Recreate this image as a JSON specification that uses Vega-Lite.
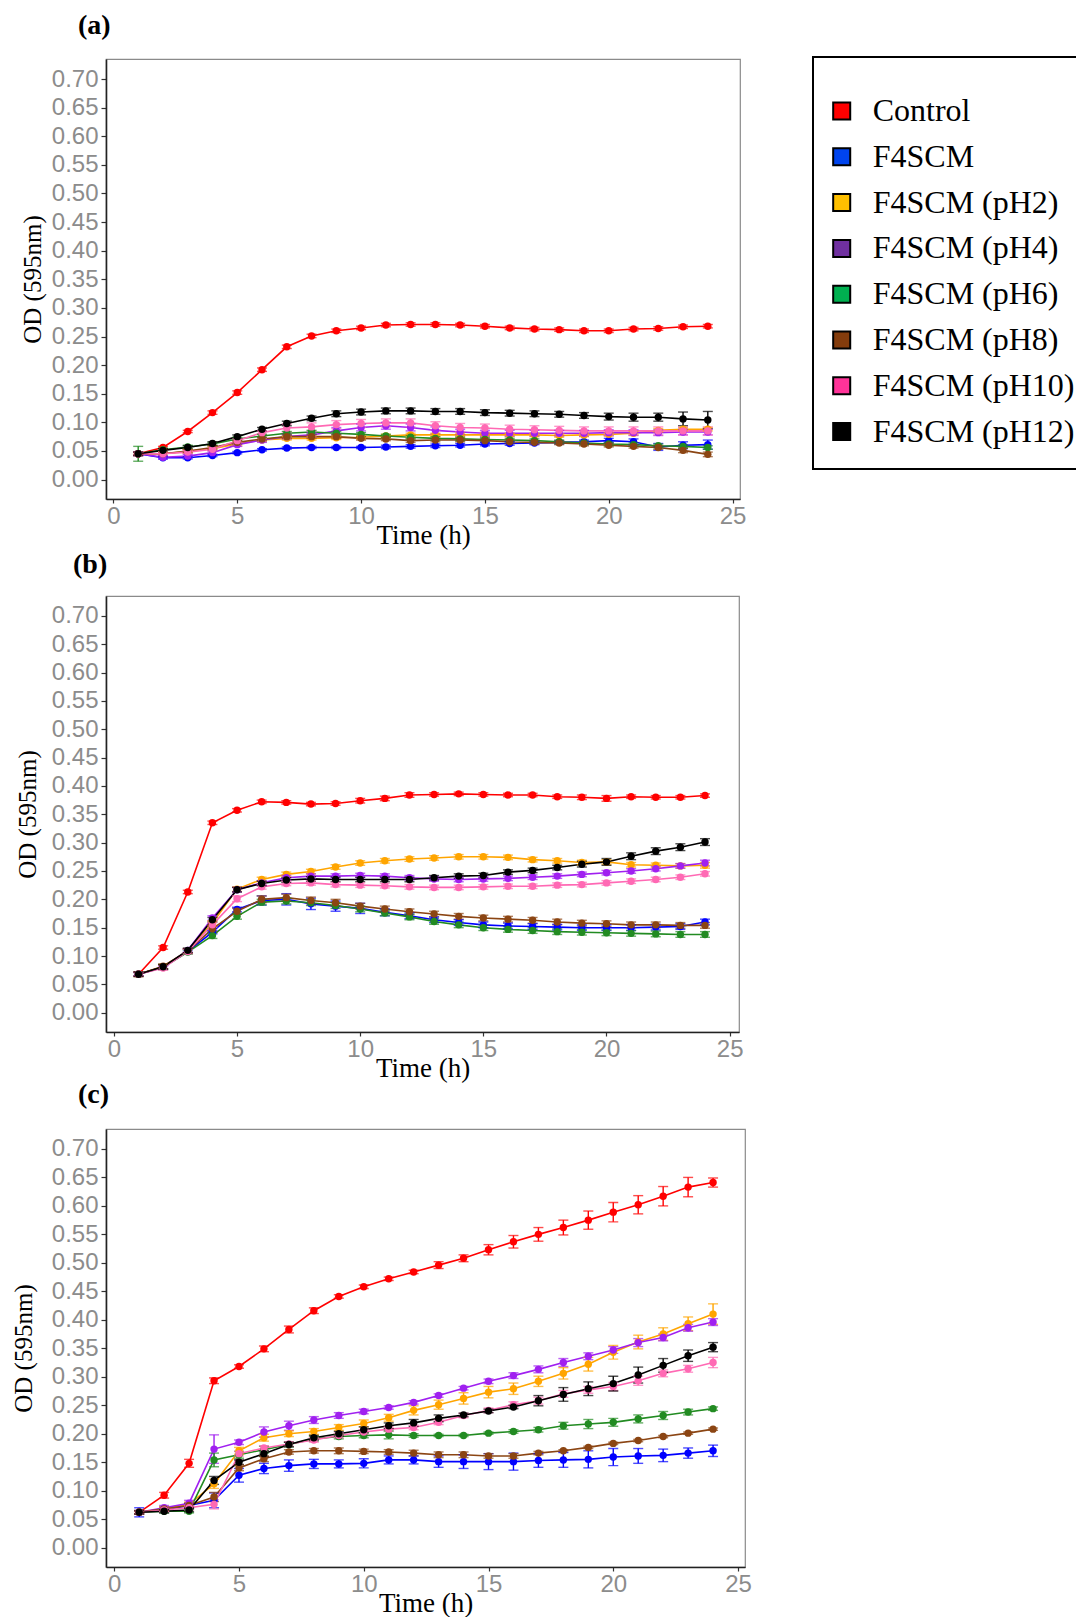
{
"$schema": "https://vega.github.io/schema/vega-lite/v6.json",
"background": "white",
"padding": {"left": 10, "top": 11, "right": 0, "bottom": 0},
"config": {
 "view": {"stroke": "#8a8a8a", "strokeWidth": 1.2},
 "axis": {"grid": false, "labelFont": "Liberation Sans", "labelFontSize": 24, "labelColor": "#8c8c8c", "labelFlush": false, "labelOverlap": false, "tickColor": "#333333", "tickWidth": 1.2, "domainColor": "#222222", "domainWidth": 1.6, "titleFont": "Liberation Serif", "titleFontWeight": "normal", "titleColor": "black", "titleFontSize": 27},
 "axisX": {"tickSize": 4, "labelPadding": 1, "titleBaseline": "alphabetic"},
 "axisY": {"tickSize": 5, "labelPadding": 3, "titleFontSize": 25, "titleBaseline": "middle"},
 "title": {"font": "Liberation Serif", "fontWeight": "bold", "fontSize": 28, "color": "black", "anchor": "start", "frame": "group"}
},
"spacing": 97,
"bounds": "flush",
"resolve": {"legend": {"fill": "independent"}},
"datasets": {
"a": [
{"s":"Control","t":1,"y":0.045,"e":0.002},{"s":"Control","t":2,"y":0.056,"e":0.002},{"s":"Control","t":3,"y":0.084,"e":0.002},{"s":"Control","t":4,"y":0.117,"e":0.003},{"s":"Control","t":5,"y":0.152,"e":0.003},{"s":"Control","t":6,"y":0.192,"e":0.003},{"s":"Control","t":7,"y":0.232,"e":0.003},{"s":"Control","t":8,"y":0.251,"e":0.003},{"s":"Control","t":9,"y":0.260,"e":0.003},{"s":"Control","t":10,"y":0.265,"e":0.003},{"s":"Control","t":11,"y":0.270,"e":0.003},{"s":"Control","t":12,"y":0.271,"e":0.003},{"s":"Control","t":13,"y":0.271,"e":0.003},{"s":"Control","t":14,"y":0.270,"e":0.003},{"s":"Control","t":15,"y":0.268,"e":0.003},{"s":"Control","t":16,"y":0.265,"e":0.003},{"s":"Control","t":17,"y":0.263,"e":0.003},{"s":"Control","t":18,"y":0.262,"e":0.003},{"s":"Control","t":19,"y":0.260,"e":0.003},{"s":"Control","t":20,"y":0.260,"e":0.003},{"s":"Control","t":21,"y":0.263,"e":0.003},{"s":"Control","t":22,"y":0.264,"e":0.003},{"s":"Control","t":23,"y":0.267,"e":0.003},{"s":"Control","t":24,"y":0.268,"e":0.003},
{"s":"F4SCM","t":1,"y":0.045,"e":0.003},{"s":"F4SCM","t":2,"y":0.038,"e":0.002},{"s":"F4SCM","t":3,"y":0.038,"e":0.002},{"s":"F4SCM","t":4,"y":0.042,"e":0.002},{"s":"F4SCM","t":5,"y":0.047,"e":0.002},{"s":"F4SCM","t":6,"y":0.052,"e":0.002},{"s":"F4SCM","t":7,"y":0.055,"e":0.002},{"s":"F4SCM","t":8,"y":0.056,"e":0.002},{"s":"F4SCM","t":9,"y":0.056,"e":0.002},{"s":"F4SCM","t":10,"y":0.056,"e":0.002},{"s":"F4SCM","t":11,"y":0.057,"e":0.003},{"s":"F4SCM","t":12,"y":0.058,"e":0.003},{"s":"F4SCM","t":13,"y":0.059,"e":0.003},{"s":"F4SCM","t":14,"y":0.060,"e":0.003},{"s":"F4SCM","t":15,"y":0.062,"e":0.003},{"s":"F4SCM","t":16,"y":0.063,"e":0.003},{"s":"F4SCM","t":17,"y":0.064,"e":0.003},{"s":"F4SCM","t":18,"y":0.065,"e":0.003},{"s":"F4SCM","t":19,"y":0.066,"e":0.003},{"s":"F4SCM","t":20,"y":0.068,"e":0.004},{"s":"F4SCM","t":21,"y":0.066,"e":0.005},{"s":"F4SCM","t":22,"y":0.057,"e":0.006},{"s":"F4SCM","t":23,"y":0.060,"e":0.006},{"s":"F4SCM","t":24,"y":0.061,"e":0.008},
{"s":"F4SCM (pH2)","t":1,"y":0.045,"e":0.003},{"s":"F4SCM (pH2)","t":2,"y":0.045,"e":0.003},{"s":"F4SCM (pH2)","t":3,"y":0.049,"e":0.003},{"s":"F4SCM (pH2)","t":4,"y":0.054,"e":0.003},{"s":"F4SCM (pH2)","t":5,"y":0.062,"e":0.003},{"s":"F4SCM (pH2)","t":6,"y":0.069,"e":0.003},{"s":"F4SCM (pH2)","t":7,"y":0.072,"e":0.003},{"s":"F4SCM (pH2)","t":8,"y":0.072,"e":0.003},{"s":"F4SCM (pH2)","t":9,"y":0.073,"e":0.003},{"s":"F4SCM (pH2)","t":10,"y":0.074,"e":0.003},{"s":"F4SCM (pH2)","t":11,"y":0.076,"e":0.003},{"s":"F4SCM (pH2)","t":12,"y":0.078,"e":0.003},{"s":"F4SCM (pH2)","t":13,"y":0.078,"e":0.003},{"s":"F4SCM (pH2)","t":14,"y":0.078,"e":0.003},{"s":"F4SCM (pH2)","t":15,"y":0.078,"e":0.003},{"s":"F4SCM (pH2)","t":16,"y":0.078,"e":0.003},{"s":"F4SCM (pH2)","t":17,"y":0.078,"e":0.003},{"s":"F4SCM (pH2)","t":18,"y":0.077,"e":0.003},{"s":"F4SCM (pH2)","t":19,"y":0.078,"e":0.003},{"s":"F4SCM (pH2)","t":20,"y":0.079,"e":0.003},{"s":"F4SCM (pH2)","t":21,"y":0.081,"e":0.003},{"s":"F4SCM (pH2)","t":22,"y":0.086,"e":0.003},{"s":"F4SCM (pH2)","t":23,"y":0.088,"e":0.003},{"s":"F4SCM (pH2)","t":24,"y":0.088,"e":0.003},
{"s":"F4SCM (pH4)","t":1,"y":0.045,"e":0.003},{"s":"F4SCM (pH4)","t":2,"y":0.039,"e":0.003},{"s":"F4SCM (pH4)","t":3,"y":0.041,"e":0.003},{"s":"F4SCM (pH4)","t":4,"y":0.047,"e":0.003},{"s":"F4SCM (pH4)","t":5,"y":0.061,"e":0.003},{"s":"F4SCM (pH4)","t":6,"y":0.069,"e":0.004},{"s":"F4SCM (pH4)","t":7,"y":0.075,"e":0.004},{"s":"F4SCM (pH4)","t":8,"y":0.078,"e":0.004},{"s":"F4SCM (pH4)","t":9,"y":0.085,"e":0.006},{"s":"F4SCM (pH4)","t":10,"y":0.091,"e":0.006},{"s":"F4SCM (pH4)","t":11,"y":0.094,"e":0.006},{"s":"F4SCM (pH4)","t":12,"y":0.091,"e":0.006},{"s":"F4SCM (pH4)","t":13,"y":0.086,"e":0.006},{"s":"F4SCM (pH4)","t":14,"y":0.083,"e":0.005},{"s":"F4SCM (pH4)","t":15,"y":0.081,"e":0.005},{"s":"F4SCM (pH4)","t":16,"y":0.081,"e":0.005},{"s":"F4SCM (pH4)","t":17,"y":0.081,"e":0.005},{"s":"F4SCM (pH4)","t":18,"y":0.081,"e":0.005},{"s":"F4SCM (pH4)","t":19,"y":0.081,"e":0.005},{"s":"F4SCM (pH4)","t":20,"y":0.082,"e":0.005},{"s":"F4SCM (pH4)","t":21,"y":0.082,"e":0.005},{"s":"F4SCM (pH4)","t":22,"y":0.082,"e":0.005},{"s":"F4SCM (pH4)","t":23,"y":0.083,"e":0.005},{"s":"F4SCM (pH4)","t":24,"y":0.083,"e":0.005},
{"s":"F4SCM (pH6)","t":1,"y":0.045,"e":0.013},{"s":"F4SCM (pH6)","t":2,"y":0.052,"e":0.003},{"s":"F4SCM (pH6)","t":3,"y":0.057,"e":0.003},{"s":"F4SCM (pH6)","t":4,"y":0.062,"e":0.003},{"s":"F4SCM (pH6)","t":5,"y":0.071,"e":0.003},{"s":"F4SCM (pH6)","t":6,"y":0.076,"e":0.003},{"s":"F4SCM (pH6)","t":7,"y":0.081,"e":0.003},{"s":"F4SCM (pH6)","t":8,"y":0.083,"e":0.003},{"s":"F4SCM (pH6)","t":9,"y":0.081,"e":0.003},{"s":"F4SCM (pH6)","t":10,"y":0.079,"e":0.003},{"s":"F4SCM (pH6)","t":11,"y":0.076,"e":0.003},{"s":"F4SCM (pH6)","t":12,"y":0.074,"e":0.003},{"s":"F4SCM (pH6)","t":13,"y":0.072,"e":0.003},{"s":"F4SCM (pH6)","t":14,"y":0.071,"e":0.003},{"s":"F4SCM (pH6)","t":15,"y":0.070,"e":0.003},{"s":"F4SCM (pH6)","t":16,"y":0.069,"e":0.003},{"s":"F4SCM (pH6)","t":17,"y":0.068,"e":0.003},{"s":"F4SCM (pH6)","t":18,"y":0.066,"e":0.003},{"s":"F4SCM (pH6)","t":19,"y":0.064,"e":0.003},{"s":"F4SCM (pH6)","t":20,"y":0.062,"e":0.003},{"s":"F4SCM (pH6)","t":21,"y":0.061,"e":0.003},{"s":"F4SCM (pH6)","t":22,"y":0.059,"e":0.003},{"s":"F4SCM (pH6)","t":23,"y":0.058,"e":0.003},{"s":"F4SCM (pH6)","t":24,"y":0.056,"e":0.003},
{"s":"F4SCM (pH8)","t":1,"y":0.045,"e":0.003},{"s":"F4SCM (pH8)","t":2,"y":0.045,"e":0.003},{"s":"F4SCM (pH8)","t":3,"y":0.050,"e":0.003},{"s":"F4SCM (pH8)","t":4,"y":0.056,"e":0.003},{"s":"F4SCM (pH8)","t":5,"y":0.065,"e":0.003},{"s":"F4SCM (pH8)","t":6,"y":0.071,"e":0.003},{"s":"F4SCM (pH8)","t":7,"y":0.075,"e":0.003},{"s":"F4SCM (pH8)","t":8,"y":0.075,"e":0.003},{"s":"F4SCM (pH8)","t":9,"y":0.075,"e":0.003},{"s":"F4SCM (pH8)","t":10,"y":0.072,"e":0.003},{"s":"F4SCM (pH8)","t":11,"y":0.071,"e":0.003},{"s":"F4SCM (pH8)","t":12,"y":0.068,"e":0.003},{"s":"F4SCM (pH8)","t":13,"y":0.069,"e":0.003},{"s":"F4SCM (pH8)","t":14,"y":0.069,"e":0.003},{"s":"F4SCM (pH8)","t":15,"y":0.068,"e":0.003},{"s":"F4SCM (pH8)","t":16,"y":0.066,"e":0.003},{"s":"F4SCM (pH8)","t":17,"y":0.065,"e":0.003},{"s":"F4SCM (pH8)","t":18,"y":0.064,"e":0.003},{"s":"F4SCM (pH8)","t":19,"y":0.062,"e":0.003},{"s":"F4SCM (pH8)","t":20,"y":0.060,"e":0.003},{"s":"F4SCM (pH8)","t":21,"y":0.058,"e":0.003},{"s":"F4SCM (pH8)","t":22,"y":0.056,"e":0.003},{"s":"F4SCM (pH8)","t":23,"y":0.051,"e":0.004},{"s":"F4SCM (pH8)","t":24,"y":0.044,"e":0.004},
{"s":"F4SCM (pH10)","t":1,"y":0.045,"e":0.003},{"s":"F4SCM (pH10)","t":2,"y":0.045,"e":0.003},{"s":"F4SCM (pH10)","t":3,"y":0.048,"e":0.003},{"s":"F4SCM (pH10)","t":4,"y":0.053,"e":0.003},{"s":"F4SCM (pH10)","t":5,"y":0.068,"e":0.003},{"s":"F4SCM (pH10)","t":6,"y":0.082,"e":0.003},{"s":"F4SCM (pH10)","t":7,"y":0.090,"e":0.007},{"s":"F4SCM (pH10)","t":8,"y":0.092,"e":0.007},{"s":"F4SCM (pH10)","t":9,"y":0.096,"e":0.007},{"s":"F4SCM (pH10)","t":10,"y":0.098,"e":0.007},{"s":"F4SCM (pH10)","t":11,"y":0.099,"e":0.007},{"s":"F4SCM (pH10)","t":12,"y":0.099,"e":0.007},{"s":"F4SCM (pH10)","t":13,"y":0.094,"e":0.007},{"s":"F4SCM (pH10)","t":14,"y":0.091,"e":0.007},{"s":"F4SCM (pH10)","t":15,"y":0.090,"e":0.007},{"s":"F4SCM (pH10)","t":16,"y":0.088,"e":0.007},{"s":"F4SCM (pH10)","t":17,"y":0.087,"e":0.007},{"s":"F4SCM (pH10)","t":18,"y":0.086,"e":0.007},{"s":"F4SCM (pH10)","t":19,"y":0.085,"e":0.007},{"s":"F4SCM (pH10)","t":20,"y":0.085,"e":0.007},{"s":"F4SCM (pH10)","t":21,"y":0.085,"e":0.007},{"s":"F4SCM (pH10)","t":22,"y":0.085,"e":0.007},{"s":"F4SCM (pH10)","t":23,"y":0.085,"e":0.007},{"s":"F4SCM (pH10)","t":24,"y":0.085,"e":0.007},
{"s":"F4SCM (pH12)","t":1,"y":0.045,"e":0.003},{"s":"F4SCM (pH12)","t":2,"y":0.051,"e":0.003},{"s":"F4SCM (pH12)","t":3,"y":0.056,"e":0.003},{"s":"F4SCM (pH12)","t":4,"y":0.063,"e":0.003},{"s":"F4SCM (pH12)","t":5,"y":0.075,"e":0.003},{"s":"F4SCM (pH12)","t":6,"y":0.088,"e":0.003},{"s":"F4SCM (pH12)","t":7,"y":0.098,"e":0.004},{"s":"F4SCM (pH12)","t":8,"y":0.107,"e":0.004},{"s":"F4SCM (pH12)","t":9,"y":0.115,"e":0.005},{"s":"F4SCM (pH12)","t":10,"y":0.118,"e":0.005},{"s":"F4SCM (pH12)","t":11,"y":0.120,"e":0.005},{"s":"F4SCM (pH12)","t":12,"y":0.120,"e":0.005},{"s":"F4SCM (pH12)","t":13,"y":0.119,"e":0.005},{"s":"F4SCM (pH12)","t":14,"y":0.119,"e":0.005},{"s":"F4SCM (pH12)","t":15,"y":0.117,"e":0.005},{"s":"F4SCM (pH12)","t":16,"y":0.116,"e":0.005},{"s":"F4SCM (pH12)","t":17,"y":0.115,"e":0.005},{"s":"F4SCM (pH12)","t":18,"y":0.114,"e":0.005},{"s":"F4SCM (pH12)","t":19,"y":0.112,"e":0.005},{"s":"F4SCM (pH12)","t":20,"y":0.110,"e":0.006},{"s":"F4SCM (pH12)","t":21,"y":0.109,"e":0.007},{"s":"F4SCM (pH12)","t":22,"y":0.109,"e":0.007},{"s":"F4SCM (pH12)","t":23,"y":0.106,"e":0.012},{"s":"F4SCM (pH12)","t":24,"y":0.104,"e":0.015}
],
"b": [
{"s":"Control","t":1,"y":0.068,"e":0.003},{"s":"Control","t":2,"y":0.115,"e":0.003},{"s":"Control","t":3,"y":0.213,"e":0.003},{"s":"Control","t":4,"y":0.335,"e":0.003},{"s":"Control","t":5,"y":0.357,"e":0.003},{"s":"Control","t":6,"y":0.372,"e":0.003},{"s":"Control","t":7,"y":0.371,"e":0.003},{"s":"Control","t":8,"y":0.368,"e":0.003},{"s":"Control","t":9,"y":0.369,"e":0.003},{"s":"Control","t":10,"y":0.374,"e":0.004},{"s":"Control","t":11,"y":0.378,"e":0.004},{"s":"Control","t":12,"y":0.384,"e":0.004},{"s":"Control","t":13,"y":0.385,"e":0.003},{"s":"Control","t":14,"y":0.386,"e":0.003},{"s":"Control","t":15,"y":0.385,"e":0.003},{"s":"Control","t":16,"y":0.384,"e":0.003},{"s":"Control","t":17,"y":0.384,"e":0.003},{"s":"Control","t":18,"y":0.381,"e":0.003},{"s":"Control","t":19,"y":0.380,"e":0.004},{"s":"Control","t":20,"y":0.378,"e":0.005},{"s":"Control","t":21,"y":0.381,"e":0.003},{"s":"Control","t":22,"y":0.380,"e":0.003},{"s":"Control","t":23,"y":0.380,"e":0.003},{"s":"Control","t":24,"y":0.383,"e":0.003},
{"s":"F4SCM","t":1,"y":0.068,"e":0.003},{"s":"F4SCM","t":2,"y":0.080,"e":0.003},{"s":"F4SCM","t":3,"y":0.108,"e":0.003},{"s":"F4SCM","t":4,"y":0.142,"e":0.003},{"s":"F4SCM","t":5,"y":0.182,"e":0.004},{"s":"F4SCM","t":6,"y":0.198,"e":0.008},{"s":"F4SCM","t":7,"y":0.200,"e":0.010},{"s":"F4SCM","t":8,"y":0.192,"e":0.010},{"s":"F4SCM","t":9,"y":0.188,"e":0.009},{"s":"F4SCM","t":10,"y":0.184,"e":0.009},{"s":"F4SCM","t":11,"y":0.177,"e":0.006},{"s":"F4SCM","t":12,"y":0.171,"e":0.005},{"s":"F4SCM","t":13,"y":0.164,"e":0.005},{"s":"F4SCM","t":14,"y":0.159,"e":0.005},{"s":"F4SCM","t":15,"y":0.155,"e":0.005},{"s":"F4SCM","t":16,"y":0.153,"e":0.005},{"s":"F4SCM","t":17,"y":0.152,"e":0.005},{"s":"F4SCM","t":18,"y":0.151,"e":0.005},{"s":"F4SCM","t":19,"y":0.150,"e":0.005},{"s":"F4SCM","t":20,"y":0.150,"e":0.005},{"s":"F4SCM","t":21,"y":0.150,"e":0.005},{"s":"F4SCM","t":22,"y":0.151,"e":0.005},{"s":"F4SCM","t":23,"y":0.152,"e":0.005},{"s":"F4SCM","t":24,"y":0.160,"e":0.005},
{"s":"F4SCM (pH2)","t":1,"y":0.068,"e":0.004},{"s":"F4SCM (pH2)","t":2,"y":0.081,"e":0.004},{"s":"F4SCM (pH2)","t":3,"y":0.109,"e":0.004},{"s":"F4SCM (pH2)","t":4,"y":0.158,"e":0.004},{"s":"F4SCM (pH2)","t":5,"y":0.218,"e":0.004},{"s":"F4SCM (pH2)","t":6,"y":0.235,"e":0.004},{"s":"F4SCM (pH2)","t":7,"y":0.244,"e":0.004},{"s":"F4SCM (pH2)","t":8,"y":0.249,"e":0.004},{"s":"F4SCM (pH2)","t":9,"y":0.257,"e":0.004},{"s":"F4SCM (pH2)","t":10,"y":0.264,"e":0.004},{"s":"F4SCM (pH2)","t":11,"y":0.268,"e":0.004},{"s":"F4SCM (pH2)","t":12,"y":0.271,"e":0.004},{"s":"F4SCM (pH2)","t":13,"y":0.273,"e":0.004},{"s":"F4SCM (pH2)","t":14,"y":0.275,"e":0.004},{"s":"F4SCM (pH2)","t":15,"y":0.275,"e":0.004},{"s":"F4SCM (pH2)","t":16,"y":0.274,"e":0.004},{"s":"F4SCM (pH2)","t":17,"y":0.270,"e":0.004},{"s":"F4SCM (pH2)","t":18,"y":0.268,"e":0.004},{"s":"F4SCM (pH2)","t":19,"y":0.265,"e":0.004},{"s":"F4SCM (pH2)","t":20,"y":0.266,"e":0.004},{"s":"F4SCM (pH2)","t":21,"y":0.261,"e":0.004},{"s":"F4SCM (pH2)","t":22,"y":0.260,"e":0.004},{"s":"F4SCM (pH2)","t":23,"y":0.259,"e":0.004},{"s":"F4SCM (pH2)","t":24,"y":0.260,"e":0.005},
{"s":"F4SCM (pH4)","t":1,"y":0.068,"e":0.003},{"s":"F4SCM (pH4)","t":2,"y":0.080,"e":0.003},{"s":"F4SCM (pH4)","t":3,"y":0.110,"e":0.003},{"s":"F4SCM (pH4)","t":4,"y":0.167,"e":0.004},{"s":"F4SCM (pH4)","t":5,"y":0.217,"e":0.004},{"s":"F4SCM (pH4)","t":6,"y":0.229,"e":0.004},{"s":"F4SCM (pH4)","t":7,"y":0.238,"e":0.004},{"s":"F4SCM (pH4)","t":8,"y":0.241,"e":0.004},{"s":"F4SCM (pH4)","t":9,"y":0.241,"e":0.004},{"s":"F4SCM (pH4)","t":10,"y":0.242,"e":0.004},{"s":"F4SCM (pH4)","t":11,"y":0.241,"e":0.004},{"s":"F4SCM (pH4)","t":12,"y":0.238,"e":0.004},{"s":"F4SCM (pH4)","t":13,"y":0.236,"e":0.004},{"s":"F4SCM (pH4)","t":14,"y":0.235,"e":0.004},{"s":"F4SCM (pH4)","t":15,"y":0.236,"e":0.004},{"s":"F4SCM (pH4)","t":16,"y":0.237,"e":0.004},{"s":"F4SCM (pH4)","t":17,"y":0.239,"e":0.004},{"s":"F4SCM (pH4)","t":18,"y":0.241,"e":0.004},{"s":"F4SCM (pH4)","t":19,"y":0.244,"e":0.004},{"s":"F4SCM (pH4)","t":20,"y":0.247,"e":0.004},{"s":"F4SCM (pH4)","t":21,"y":0.250,"e":0.004},{"s":"F4SCM (pH4)","t":22,"y":0.254,"e":0.004},{"s":"F4SCM (pH4)","t":23,"y":0.259,"e":0.004},{"s":"F4SCM (pH4)","t":24,"y":0.264,"e":0.005},
{"s":"F4SCM (pH6)","t":1,"y":0.068,"e":0.004},{"s":"F4SCM (pH6)","t":2,"y":0.080,"e":0.004},{"s":"F4SCM (pH6)","t":3,"y":0.107,"e":0.004},{"s":"F4SCM (pH6)","t":4,"y":0.136,"e":0.005},{"s":"F4SCM (pH6)","t":5,"y":0.170,"e":0.005},{"s":"F4SCM (pH6)","t":6,"y":0.195,"e":0.005},{"s":"F4SCM (pH6)","t":7,"y":0.197,"e":0.005},{"s":"F4SCM (pH6)","t":8,"y":0.194,"e":0.005},{"s":"F4SCM (pH6)","t":9,"y":0.189,"e":0.005},{"s":"F4SCM (pH6)","t":10,"y":0.183,"e":0.005},{"s":"F4SCM (pH6)","t":11,"y":0.176,"e":0.005},{"s":"F4SCM (pH6)","t":12,"y":0.169,"e":0.005},{"s":"F4SCM (pH6)","t":13,"y":0.161,"e":0.005},{"s":"F4SCM (pH6)","t":14,"y":0.155,"e":0.005},{"s":"F4SCM (pH6)","t":15,"y":0.150,"e":0.005},{"s":"F4SCM (pH6)","t":16,"y":0.147,"e":0.005},{"s":"F4SCM (pH6)","t":17,"y":0.145,"e":0.005},{"s":"F4SCM (pH6)","t":18,"y":0.143,"e":0.005},{"s":"F4SCM (pH6)","t":19,"y":0.142,"e":0.005},{"s":"F4SCM (pH6)","t":20,"y":0.141,"e":0.005},{"s":"F4SCM (pH6)","t":21,"y":0.140,"e":0.005},{"s":"F4SCM (pH6)","t":22,"y":0.139,"e":0.005},{"s":"F4SCM (pH6)","t":23,"y":0.138,"e":0.005},{"s":"F4SCM (pH6)","t":24,"y":0.138,"e":0.005},
{"s":"F4SCM (pH8)","t":1,"y":0.068,"e":0.004},{"s":"F4SCM (pH8)","t":2,"y":0.082,"e":0.004},{"s":"F4SCM (pH8)","t":3,"y":0.109,"e":0.004},{"s":"F4SCM (pH8)","t":4,"y":0.148,"e":0.005},{"s":"F4SCM (pH8)","t":5,"y":0.179,"e":0.005},{"s":"F4SCM (pH8)","t":6,"y":0.200,"e":0.006},{"s":"F4SCM (pH8)","t":7,"y":0.203,"e":0.006},{"s":"F4SCM (pH8)","t":8,"y":0.198,"e":0.006},{"s":"F4SCM (pH8)","t":9,"y":0.194,"e":0.006},{"s":"F4SCM (pH8)","t":10,"y":0.188,"e":0.005},{"s":"F4SCM (pH8)","t":11,"y":0.183,"e":0.005},{"s":"F4SCM (pH8)","t":12,"y":0.178,"e":0.005},{"s":"F4SCM (pH8)","t":13,"y":0.174,"e":0.005},{"s":"F4SCM (pH8)","t":14,"y":0.170,"e":0.005},{"s":"F4SCM (pH8)","t":15,"y":0.167,"e":0.005},{"s":"F4SCM (pH8)","t":16,"y":0.165,"e":0.005},{"s":"F4SCM (pH8)","t":17,"y":0.163,"e":0.005},{"s":"F4SCM (pH8)","t":18,"y":0.160,"e":0.005},{"s":"F4SCM (pH8)","t":19,"y":0.158,"e":0.005},{"s":"F4SCM (pH8)","t":20,"y":0.157,"e":0.005},{"s":"F4SCM (pH8)","t":21,"y":0.155,"e":0.005},{"s":"F4SCM (pH8)","t":22,"y":0.155,"e":0.005},{"s":"F4SCM (pH8)","t":23,"y":0.154,"e":0.005},{"s":"F4SCM (pH8)","t":24,"y":0.154,"e":0.005},
{"s":"F4SCM (pH10)","t":1,"y":0.068,"e":0.004},{"s":"F4SCM (pH10)","t":2,"y":0.079,"e":0.004},{"s":"F4SCM (pH10)","t":3,"y":0.108,"e":0.004},{"s":"F4SCM (pH10)","t":4,"y":0.155,"e":0.004},{"s":"F4SCM (pH10)","t":5,"y":0.201,"e":0.005},{"s":"F4SCM (pH10)","t":6,"y":0.222,"e":0.004},{"s":"F4SCM (pH10)","t":7,"y":0.228,"e":0.004},{"s":"F4SCM (pH10)","t":8,"y":0.229,"e":0.004},{"s":"F4SCM (pH10)","t":9,"y":0.226,"e":0.004},{"s":"F4SCM (pH10)","t":10,"y":0.225,"e":0.004},{"s":"F4SCM (pH10)","t":11,"y":0.224,"e":0.004},{"s":"F4SCM (pH10)","t":12,"y":0.222,"e":0.004},{"s":"F4SCM (pH10)","t":13,"y":0.221,"e":0.004},{"s":"F4SCM (pH10)","t":14,"y":0.221,"e":0.004},{"s":"F4SCM (pH10)","t":15,"y":0.222,"e":0.004},{"s":"F4SCM (pH10)","t":16,"y":0.223,"e":0.004},{"s":"F4SCM (pH10)","t":17,"y":0.223,"e":0.004},{"s":"F4SCM (pH10)","t":18,"y":0.225,"e":0.004},{"s":"F4SCM (pH10)","t":19,"y":0.226,"e":0.004},{"s":"F4SCM (pH10)","t":20,"y":0.229,"e":0.004},{"s":"F4SCM (pH10)","t":21,"y":0.232,"e":0.004},{"s":"F4SCM (pH10)","t":22,"y":0.235,"e":0.004},{"s":"F4SCM (pH10)","t":23,"y":0.239,"e":0.004},{"s":"F4SCM (pH10)","t":24,"y":0.245,"e":0.004},
{"s":"F4SCM (pH12)","t":1,"y":0.068,"e":0.004},{"s":"F4SCM (pH12)","t":2,"y":0.081,"e":0.004},{"s":"F4SCM (pH12)","t":3,"y":0.110,"e":0.004},{"s":"F4SCM (pH12)","t":4,"y":0.164,"e":0.004},{"s":"F4SCM (pH12)","t":5,"y":0.217,"e":0.004},{"s":"F4SCM (pH12)","t":6,"y":0.228,"e":0.004},{"s":"F4SCM (pH12)","t":7,"y":0.234,"e":0.004},{"s":"F4SCM (pH12)","t":8,"y":0.236,"e":0.004},{"s":"F4SCM (pH12)","t":9,"y":0.235,"e":0.004},{"s":"F4SCM (pH12)","t":10,"y":0.235,"e":0.004},{"s":"F4SCM (pH12)","t":11,"y":0.235,"e":0.004},{"s":"F4SCM (pH12)","t":12,"y":0.235,"e":0.004},{"s":"F4SCM (pH12)","t":13,"y":0.238,"e":0.004},{"s":"F4SCM (pH12)","t":14,"y":0.241,"e":0.004},{"s":"F4SCM (pH12)","t":15,"y":0.242,"e":0.004},{"s":"F4SCM (pH12)","t":16,"y":0.248,"e":0.004},{"s":"F4SCM (pH12)","t":17,"y":0.251,"e":0.004},{"s":"F4SCM (pH12)","t":18,"y":0.256,"e":0.004},{"s":"F4SCM (pH12)","t":19,"y":0.262,"e":0.005},{"s":"F4SCM (pH12)","t":20,"y":0.266,"e":0.006},{"s":"F4SCM (pH12)","t":21,"y":0.276,"e":0.006},{"s":"F4SCM (pH12)","t":22,"y":0.285,"e":0.006},{"s":"F4SCM (pH12)","t":23,"y":0.292,"e":0.006},{"s":"F4SCM (pH12)","t":24,"y":0.301,"e":0.006}
],
"c": [
{"s":"Control","t":1,"y":0.062,"e":0.002},{"s":"Control","t":2,"y":0.092,"e":0.005},{"s":"Control","t":3,"y":0.148,"e":0.007},{"s":"Control","t":4,"y":0.293,"e":0.005},{"s":"Control","t":5,"y":0.318,"e":0.003},{"s":"Control","t":6,"y":0.349,"e":0.005},{"s":"Control","t":7,"y":0.383,"e":0.006},{"s":"Control","t":8,"y":0.416,"e":0.005},{"s":"Control","t":9,"y":0.441,"e":0.003},{"s":"Control","t":10,"y":0.458,"e":0.003},{"s":"Control","t":11,"y":0.472,"e":0.003},{"s":"Control","t":12,"y":0.484,"e":0.003},{"s":"Control","t":13,"y":0.496,"e":0.006},{"s":"Control","t":14,"y":0.508,"e":0.006},{"s":"Control","t":15,"y":0.523,"e":0.009},{"s":"Control","t":16,"y":0.537,"e":0.011},{"s":"Control","t":17,"y":0.550,"e":0.012},{"s":"Control","t":18,"y":0.562,"e":0.013},{"s":"Control","t":19,"y":0.575,"e":0.016},{"s":"Control","t":20,"y":0.589,"e":0.017},{"s":"Control","t":21,"y":0.602,"e":0.016},{"s":"Control","t":22,"y":0.617,"e":0.017},{"s":"Control","t":23,"y":0.633,"e":0.017},{"s":"Control","t":24,"y":0.641,"e":0.008},
{"s":"F4SCM","t":1,"y":0.062,"e":0.008},{"s":"F4SCM","t":2,"y":0.066,"e":0.003},{"s":"F4SCM","t":3,"y":0.074,"e":0.004},{"s":"F4SCM","t":4,"y":0.083,"e":0.013},{"s":"F4SCM","t":5,"y":0.127,"e":0.012},{"s":"F4SCM","t":6,"y":0.139,"e":0.009},{"s":"F4SCM","t":7,"y":0.144,"e":0.010},{"s":"F4SCM","t":8,"y":0.147,"e":0.008},{"s":"F4SCM","t":9,"y":0.147,"e":0.007},{"s":"F4SCM","t":10,"y":0.148,"e":0.008},{"s":"F4SCM","t":11,"y":0.154,"e":0.007},{"s":"F4SCM","t":12,"y":0.154,"e":0.007},{"s":"F4SCM","t":13,"y":0.151,"e":0.010},{"s":"F4SCM","t":14,"y":0.151,"e":0.012},{"s":"F4SCM","t":15,"y":0.151,"e":0.014},{"s":"F4SCM","t":16,"y":0.151,"e":0.015},{"s":"F4SCM","t":17,"y":0.153,"e":0.012},{"s":"F4SCM","t":18,"y":0.154,"e":0.013},{"s":"F4SCM","t":19,"y":0.155,"e":0.015},{"s":"F4SCM","t":20,"y":0.159,"e":0.015},{"s":"F4SCM","t":21,"y":0.161,"e":0.013},{"s":"F4SCM","t":22,"y":0.162,"e":0.011},{"s":"F4SCM","t":23,"y":0.166,"e":0.009},{"s":"F4SCM","t":24,"y":0.170,"e":0.010},
{"s":"F4SCM (pH2)","t":1,"y":0.062,"e":0.003},{"s":"F4SCM (pH2)","t":2,"y":0.068,"e":0.004},{"s":"F4SCM (pH2)","t":3,"y":0.076,"e":0.004},{"s":"F4SCM (pH2)","t":4,"y":0.112,"e":0.008},{"s":"F4SCM (pH2)","t":5,"y":0.170,"e":0.006},{"s":"F4SCM (pH2)","t":6,"y":0.193,"e":0.006},{"s":"F4SCM (pH2)","t":7,"y":0.200,"e":0.005},{"s":"F4SCM (pH2)","t":8,"y":0.204,"e":0.005},{"s":"F4SCM (pH2)","t":9,"y":0.211,"e":0.005},{"s":"F4SCM (pH2)","t":10,"y":0.218,"e":0.006},{"s":"F4SCM (pH2)","t":11,"y":0.228,"e":0.006},{"s":"F4SCM (pH2)","t":12,"y":0.241,"e":0.008},{"s":"F4SCM (pH2)","t":13,"y":0.251,"e":0.008},{"s":"F4SCM (pH2)","t":14,"y":0.262,"e":0.010},{"s":"F4SCM (pH2)","t":15,"y":0.273,"e":0.010},{"s":"F4SCM (pH2)","t":16,"y":0.279,"e":0.010},{"s":"F4SCM (pH2)","t":17,"y":0.292,"e":0.009},{"s":"F4SCM (pH2)","t":18,"y":0.306,"e":0.010},{"s":"F4SCM (pH2)","t":19,"y":0.322,"e":0.012},{"s":"F4SCM (pH2)","t":20,"y":0.343,"e":0.012},{"s":"F4SCM (pH2)","t":21,"y":0.361,"e":0.012},{"s":"F4SCM (pH2)","t":22,"y":0.375,"e":0.011},{"s":"F4SCM (pH2)","t":23,"y":0.393,"e":0.012},{"s":"F4SCM (pH2)","t":24,"y":0.410,"e":0.018},
{"s":"F4SCM (pH4)","t":1,"y":0.062,"e":0.003},{"s":"F4SCM (pH4)","t":2,"y":0.070,"e":0.004},{"s":"F4SCM (pH4)","t":3,"y":0.078,"e":0.005},{"s":"F4SCM (pH4)","t":4,"y":0.173,"e":0.025},{"s":"F4SCM (pH4)","t":5,"y":0.185,"e":0.004},{"s":"F4SCM (pH4)","t":6,"y":0.203,"e":0.009},{"s":"F4SCM (pH4)","t":7,"y":0.214,"e":0.008},{"s":"F4SCM (pH4)","t":8,"y":0.224,"e":0.006},{"s":"F4SCM (pH4)","t":9,"y":0.232,"e":0.005},{"s":"F4SCM (pH4)","t":10,"y":0.239,"e":0.004},{"s":"F4SCM (pH4)","t":11,"y":0.246,"e":0.003},{"s":"F4SCM (pH4)","t":12,"y":0.255,"e":0.003},{"s":"F4SCM (pH4)","t":13,"y":0.267,"e":0.003},{"s":"F4SCM (pH4)","t":14,"y":0.280,"e":0.003},{"s":"F4SCM (pH4)","t":15,"y":0.292,"e":0.004},{"s":"F4SCM (pH4)","t":16,"y":0.302,"e":0.005},{"s":"F4SCM (pH4)","t":17,"y":0.313,"e":0.006},{"s":"F4SCM (pH4)","t":18,"y":0.325,"e":0.007},{"s":"F4SCM (pH4)","t":19,"y":0.336,"e":0.006},{"s":"F4SCM (pH4)","t":20,"y":0.347,"e":0.006},{"s":"F4SCM (pH4)","t":21,"y":0.360,"e":0.007},{"s":"F4SCM (pH4)","t":22,"y":0.369,"e":0.006},{"s":"F4SCM (pH4)","t":23,"y":0.386,"e":0.006},{"s":"F4SCM (pH4)","t":24,"y":0.396,"e":0.006},
{"s":"F4SCM (pH6)","t":1,"y":0.062,"e":0.003},{"s":"F4SCM (pH6)","t":2,"y":0.064,"e":0.003},{"s":"F4SCM (pH6)","t":3,"y":0.064,"e":0.003},{"s":"F4SCM (pH6)","t":4,"y":0.154,"e":0.012},{"s":"F4SCM (pH6)","t":5,"y":0.163,"e":0.006},{"s":"F4SCM (pH6)","t":6,"y":0.172,"e":0.006},{"s":"F4SCM (pH6)","t":7,"y":0.181,"e":0.004},{"s":"F4SCM (pH6)","t":8,"y":0.191,"e":0.004},{"s":"F4SCM (pH6)","t":9,"y":0.195,"e":0.004},{"s":"F4SCM (pH6)","t":10,"y":0.197,"e":0.004},{"s":"F4SCM (pH6)","t":11,"y":0.198,"e":0.007},{"s":"F4SCM (pH6)","t":12,"y":0.197,"e":0.003},{"s":"F4SCM (pH6)","t":13,"y":0.197,"e":0.002},{"s":"F4SCM (pH6)","t":14,"y":0.197,"e":0.002},{"s":"F4SCM (pH6)","t":15,"y":0.201,"e":0.002},{"s":"F4SCM (pH6)","t":16,"y":0.204,"e":0.003},{"s":"F4SCM (pH6)","t":17,"y":0.207,"e":0.004},{"s":"F4SCM (pH6)","t":18,"y":0.214,"e":0.006},{"s":"F4SCM (pH6)","t":19,"y":0.217,"e":0.008},{"s":"F4SCM (pH6)","t":20,"y":0.220,"e":0.007},{"s":"F4SCM (pH6)","t":21,"y":0.226,"e":0.007},{"s":"F4SCM (pH6)","t":22,"y":0.232,"e":0.007},{"s":"F4SCM (pH6)","t":23,"y":0.238,"e":0.005},{"s":"F4SCM (pH6)","t":24,"y":0.244,"e":0.003},
{"s":"F4SCM (pH8)","t":1,"y":0.062,"e":0.003},{"s":"F4SCM (pH8)","t":2,"y":0.068,"e":0.003},{"s":"F4SCM (pH8)","t":3,"y":0.074,"e":0.004},{"s":"F4SCM (pH8)","t":4,"y":0.089,"e":0.008},{"s":"F4SCM (pH8)","t":5,"y":0.140,"e":0.005},{"s":"F4SCM (pH8)","t":6,"y":0.156,"e":0.005},{"s":"F4SCM (pH8)","t":7,"y":0.168,"e":0.004},{"s":"F4SCM (pH8)","t":8,"y":0.170,"e":0.004},{"s":"F4SCM (pH8)","t":9,"y":0.170,"e":0.005},{"s":"F4SCM (pH8)","t":10,"y":0.169,"e":0.004},{"s":"F4SCM (pH8)","t":11,"y":0.168,"e":0.004},{"s":"F4SCM (pH8)","t":12,"y":0.166,"e":0.005},{"s":"F4SCM (pH8)","t":13,"y":0.163,"e":0.005},{"s":"F4SCM (pH8)","t":14,"y":0.163,"e":0.005},{"s":"F4SCM (pH8)","t":15,"y":0.161,"e":0.004},{"s":"F4SCM (pH8)","t":16,"y":0.161,"e":0.004},{"s":"F4SCM (pH8)","t":17,"y":0.166,"e":0.003},{"s":"F4SCM (pH8)","t":18,"y":0.170,"e":0.002},{"s":"F4SCM (pH8)","t":19,"y":0.176,"e":0.002},{"s":"F4SCM (pH8)","t":20,"y":0.183,"e":0.002},{"s":"F4SCM (pH8)","t":21,"y":0.188,"e":0.002},{"s":"F4SCM (pH8)","t":22,"y":0.195,"e":0.002},{"s":"F4SCM (pH8)","t":23,"y":0.201,"e":0.002},{"s":"F4SCM (pH8)","t":24,"y":0.208,"e":0.002},
{"s":"F4SCM (pH10)","t":1,"y":0.062,"e":0.003},{"s":"F4SCM (pH10)","t":2,"y":0.066,"e":0.003},{"s":"F4SCM (pH10)","t":3,"y":0.070,"e":0.004},{"s":"F4SCM (pH10)","t":4,"y":0.076,"e":0.008},{"s":"F4SCM (pH10)","t":5,"y":0.165,"e":0.004},{"s":"F4SCM (pH10)","t":6,"y":0.175,"e":0.004},{"s":"F4SCM (pH10)","t":7,"y":0.182,"e":0.004},{"s":"F4SCM (pH10)","t":8,"y":0.189,"e":0.004},{"s":"F4SCM (pH10)","t":9,"y":0.197,"e":0.004},{"s":"F4SCM (pH10)","t":10,"y":0.203,"e":0.004},{"s":"F4SCM (pH10)","t":11,"y":0.208,"e":0.004},{"s":"F4SCM (pH10)","t":12,"y":0.211,"e":0.004},{"s":"F4SCM (pH10)","t":13,"y":0.220,"e":0.004},{"s":"F4SCM (pH10)","t":14,"y":0.232,"e":0.004},{"s":"F4SCM (pH10)","t":15,"y":0.241,"e":0.004},{"s":"F4SCM (pH10)","t":16,"y":0.251,"e":0.005},{"s":"F4SCM (pH10)","t":17,"y":0.258,"e":0.006},{"s":"F4SCM (pH10)","t":18,"y":0.270,"e":0.006},{"s":"F4SCM (pH10)","t":19,"y":0.277,"e":0.006},{"s":"F4SCM (pH10)","t":20,"y":0.283,"e":0.007},{"s":"F4SCM (pH10)","t":21,"y":0.293,"e":0.008},{"s":"F4SCM (pH10)","t":22,"y":0.306,"e":0.006},{"s":"F4SCM (pH10)","t":23,"y":0.314,"e":0.006},{"s":"F4SCM (pH10)","t":24,"y":0.325,"e":0.009},
{"s":"F4SCM (pH12)","t":1,"y":0.062,"e":0.003},{"s":"F4SCM (pH12)","t":2,"y":0.064,"e":0.003},{"s":"F4SCM (pH12)","t":3,"y":0.066,"e":0.003},{"s":"F4SCM (pH12)","t":4,"y":0.118,"e":0.007},{"s":"F4SCM (pH12)","t":5,"y":0.150,"e":0.004},{"s":"F4SCM (pH12)","t":6,"y":0.165,"e":0.005},{"s":"F4SCM (pH12)","t":7,"y":0.181,"e":0.004},{"s":"F4SCM (pH12)","t":8,"y":0.193,"e":0.004},{"s":"F4SCM (pH12)","t":9,"y":0.200,"e":0.004},{"s":"F4SCM (pH12)","t":10,"y":0.207,"e":0.005},{"s":"F4SCM (pH12)","t":11,"y":0.214,"e":0.005},{"s":"F4SCM (pH12)","t":12,"y":0.219,"e":0.006},{"s":"F4SCM (pH12)","t":13,"y":0.227,"e":0.006},{"s":"F4SCM (pH12)","t":14,"y":0.233,"e":0.003},{"s":"F4SCM (pH12)","t":15,"y":0.240,"e":0.003},{"s":"F4SCM (pH12)","t":16,"y":0.247,"e":0.003},{"s":"F4SCM (pH12)","t":17,"y":0.258,"e":0.009},{"s":"F4SCM (pH12)","t":18,"y":0.269,"e":0.012},{"s":"F4SCM (pH12)","t":19,"y":0.279,"e":0.012},{"s":"F4SCM (pH12)","t":20,"y":0.288,"e":0.013},{"s":"F4SCM (pH12)","t":21,"y":0.303,"e":0.014},{"s":"F4SCM (pH12)","t":22,"y":0.320,"e":0.012},{"s":"F4SCM (pH12)","t":23,"y":0.337,"e":0.010},{"s":"F4SCM (pH12)","t":24,"y":0.352,"e":0.008}
]
},
"vconcat": [
{
 "width": 634, "height": 440,
 "data": {"name": "a"},
 "title": {"text": "(a)", "dx": -28, "offset": 16},
 "encoding": {
  "x": {"field": "t", "type": "quantitative", "scale": {"domain": [-0.3, 25.3], "nice": false, "zero": false}, "axis": {"values": [0,5,10,15,20,25], "title": "Time (h)", "titleY": 44}},
  "y": {"field": "y", "type": "quantitative", "scale": {"domain": [-0.034, 0.735], "nice": false, "zero": false}, "axis": {"values": [0,0.05,0.1,0.15,0.2,0.25,0.3,0.35,0.4,0.45,0.5,0.55,0.6,0.65,0.7], "format": ".2f", "title": "OD (595nm)", "titleX": -74, "titleY": 220}},
  "color": {"field": "s", "type": "nominal", "scale": {"domain": ["Control","F4SCM","F4SCM (pH2)","F4SCM (pH4)","F4SCM (pH6)","F4SCM (pH8)","F4SCM (pH10)","F4SCM (pH12)"], "range": ["#FF0000","#0000FF","#FFA500","#A020F0","#228B22","#8B4513","#FF69B4","#000000"]}, "legend": null}
 },
 "layer": [
  {"mark": {"type": "line", "strokeWidth": 1.6}},
  {"mark": {"type": "errorbar", "thickness": 1.4, "ticks": {"size": 10, "thickness": 1.4}}, "encoding": {"yError": {"field": "e"}}},
  {"mark": {"type": "point", "filled": true, "size": 55, "opacity": 1}},
  {"mark": {"type": "point", "filled": true, "shape": "square", "opacity": 0},
   "encoding": {"fill": {"field": "s", "type": "nominal",
     "scale": {"domain": ["Control","F4SCM","F4SCM (pH2)","F4SCM (pH4)","F4SCM (pH6)","F4SCM (pH8)","F4SCM (pH10)","F4SCM (pH12)"], "range": ["#FF0000","#0044EE","#FFC000","#7030A0","#00B050","#843C0C","#FF3399","#000000"]},
     "legend": {"orient": "none", "legendX": 707, "legendY": -2, "title": " ", "titleFontSize": 12, "titlePadding": 5, "padding": 21, "strokeColor": "black", "fillColor": "white", "labelFont": "Liberation Serif", "labelFontSize": 32, "labelColor": "black", "labelLimit": 400, "labelOffset": 15, "symbolOffset": -8.3, "symbolType": "square", "symbolSize": 290, "symbolStrokeColor": "black", "symbolStrokeWidth": 2, "symbolOpacity": 1, "rowPadding": 13.8,
       "encode": {"legend": {"update": {"strokeWidth": {"value": 2}}}}}}}}
 ]
},
{
 "width": 633, "height": 436,
 "data": {"name": "b"},
 "title": {"text": "(b)", "dx": -33, "offset": 17},
 "encoding": {
  "x": {"field": "t", "type": "quantitative", "scale": {"domain": [-0.32, 25.38], "nice": false, "zero": false}, "axis": {"values": [0,5,10,15,20,25], "title": "Time (h)", "titleY": 44}},
  "y": {"field": "y", "type": "quantitative", "scale": {"domain": [-0.034, 0.735], "nice": false, "zero": false}, "axis": {"values": [0,0.05,0.1,0.15,0.2,0.25,0.3,0.35,0.4,0.45,0.5,0.55,0.6,0.65,0.7], "format": ".2f", "title": "OD (595nm)", "titleX": -79, "titleY": 218}},
  "color": {"field": "s", "type": "nominal", "scale": {"domain": ["Control","F4SCM","F4SCM (pH2)","F4SCM (pH4)","F4SCM (pH6)","F4SCM (pH8)","F4SCM (pH10)","F4SCM (pH12)"], "range": ["#FF0000","#0000FF","#FFA500","#A020F0","#228B22","#8B4513","#FF69B4","#000000"]}, "legend": null}
 },
 "layer": [
  {"mark": {"type": "line", "strokeWidth": 1.6}},
  {"mark": {"type": "errorbar", "thickness": 1.4, "ticks": {"size": 10, "thickness": 1.4}}, "encoding": {"yError": {"field": "e"}}},
  {"mark": {"type": "point", "filled": true, "size": 55, "opacity": 1}}
 ]
},
{
 "width": 639, "height": 438,
 "data": {"name": "c"},
 "title": {"text": "(c)", "dx": -28, "offset": 20},
 "encoding": {
  "x": {"field": "t", "type": "quantitative", "scale": {"domain": [-0.33, 25.28], "nice": false, "zero": false}, "axis": {"values": [0,5,10,15,20,25], "title": "Time (h)", "titleY": 44}},
  "y": {"field": "y", "type": "quantitative", "scale": {"domain": [-0.034, 0.735], "nice": false, "zero": false}, "axis": {"values": [0,0.05,0.1,0.15,0.2,0.25,0.3,0.35,0.4,0.45,0.5,0.55,0.6,0.65,0.7], "format": ".2f", "title": "OD (595nm)", "titleX": -83, "titleY": 219}},
  "color": {"field": "s", "type": "nominal", "scale": {"domain": ["Control","F4SCM","F4SCM (pH2)","F4SCM (pH4)","F4SCM (pH6)","F4SCM (pH8)","F4SCM (pH10)","F4SCM (pH12)"], "range": ["#FF0000","#0000FF","#FFA500","#A020F0","#228B22","#8B4513","#FF69B4","#000000"]}, "legend": null}
 },
 "layer": [
  {"mark": {"type": "line", "strokeWidth": 1.6}},
  {"mark": {"type": "errorbar", "thickness": 1.4, "ticks": {"size": 10, "thickness": 1.4}}, "encoding": {"yError": {"field": "e"}}},
  {"mark": {"type": "point", "filled": true, "size": 55, "opacity": 1}}
 ]
}
]
}
